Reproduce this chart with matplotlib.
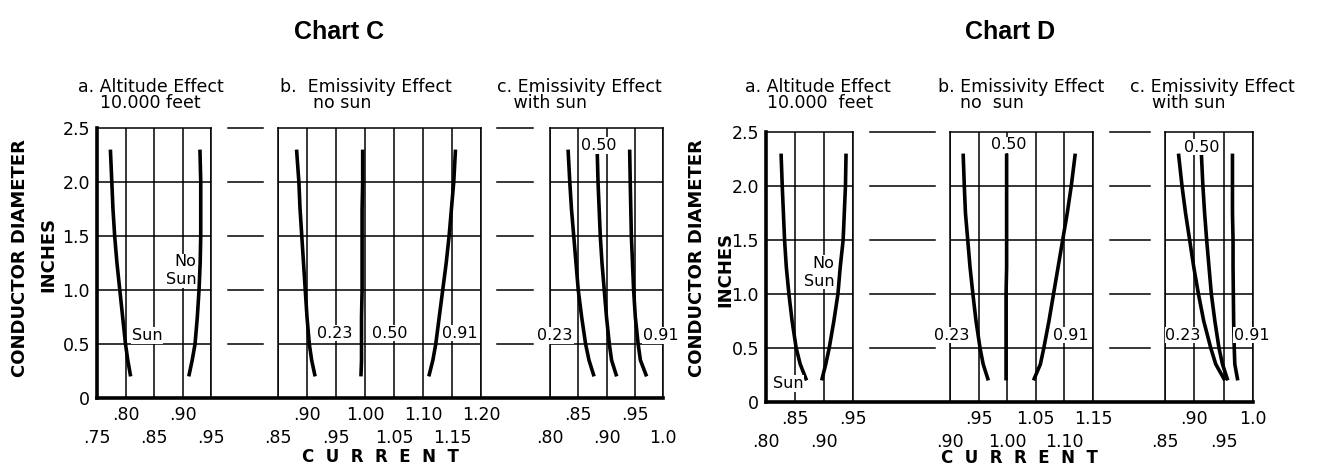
import matplotlib.pyplot as plt

W, H = 1331, 471
plt.rcParams['font.family'] = 'DejaVu Sans'

# diameter (inches) at which each curve was read
diam = [2.3, 2.0, 1.75, 1.5, 1.25, 1.0, 0.75, 0.5, 0.35, 0.2]
grid_y = [0.5, 1.0, 1.5, 2.0, 2.5]

# ---- Chart C ----
c_a_sun = [0.7735, 0.776, 0.778, 0.781, 0.785, 0.790, 0.795, 0.800, 0.804, 0.809]
c_a_nosun = [0.9306, 0.932, 0.932, 0.932, 0.931, 0.929, 0.926, 0.922, 0.917, 0.911]
c_b_023 = [0.882, 0.886, 0.888, 0.891, 0.894, 0.897, 0.900, 0.904, 0.908, 0.914]
c_b_050 = [0.996, 0.996, 0.995, 0.995, 0.995, 0.995, 0.994, 0.994, 0.994, 0.993]
c_b_091 = [1.156, 1.153, 1.149, 1.145, 1.140, 1.134, 1.128, 1.122, 1.117, 1.110]
c_c_023 = [0.832, 0.835, 0.838, 0.842, 0.846, 0.850, 0.856, 0.863, 0.869, 0.878]
c_c_050 = [0.8835, 0.885, 0.887, 0.889, 0.892, 0.896, 0.900, 0.905, 0.909, 0.918]
c_c_091 = [0.941, 0.942, 0.943, 0.944, 0.946, 0.948, 0.951, 0.956, 0.960, 0.971]

c_a_upper, c_a_upper_lbl = [0.80, 0.90], ['.80', '.90']
c_a_lower, c_a_lower_lbl = [0.75, 0.85, 0.95], ['.75', '.85', '.95']
c_b_upper, c_b_upper_lbl = [0.90, 1.00, 1.10, 1.20], ['.90', '1.00', '1.10', '1.20']
c_b_lower, c_b_lower_lbl = [0.85, 0.95, 1.05, 1.15], ['.85', '.95', '1.05', '1.15']
c_c_upper, c_c_upper_lbl = [0.85, 0.95], ['.85', '.95']
c_c_lower, c_c_lower_lbl = [0.80, 0.90, 1.00], ['.80', '.90', '1.0']

# ---- Chart D ----
d_a_sun = [0.826, 0.828, 0.830, 0.832, 0.835, 0.8395, 0.845, 0.852, 0.859, 0.870]
d_a_nosun = [0.938, 0.937, 0.935, 0.933, 0.928, 0.924, 0.917, 0.909, 0.903, 0.896]
d_b_023 = [0.923, 0.925, 0.927, 0.931, 0.935, 0.940, 0.9455, 0.9525, 0.958, 0.967]
d_b_050 = [0.999, 0.999, 0.999, 0.999, 0.999, 0.998, 0.998, 0.998, 0.998, 0.998]
d_b_091 = [1.119, 1.112, 1.105, 1.097, 1.089, 1.081, 1.073, 1.064, 1.058, 1.046]
d_c_023 = [0.873, 0.879, 0.885, 0.892, 0.899, 0.907, 0.916, 0.928, 0.9365, 0.952]
d_c_050 = [0.912, 0.9146, 0.9175, 0.921, 0.925, 0.929, 0.935, 0.942, 0.948, 0.957]
d_c_091 = [0.965, 0.965, 0.965, 0.966, 0.966, 0.9665, 0.967, 0.968, 0.969, 0.974]

d_a_upper, d_a_upper_lbl = [0.85, 0.95], ['.85', '.95']
d_a_lower, d_a_lower_lbl = [0.80, 0.90], ['.80', '.90']
d_b_upper, d_b_upper_lbl = [0.95, 1.05, 1.15], ['.95', '1.05', '1.15']
d_b_lower, d_b_lower_lbl = [0.90, 1.00, 1.10], ['.90', '1.00', '1.10']
d_c_upper, d_c_upper_lbl = [0.90, 1.00], ['.90', '1.0']
d_c_lower, d_c_lower_lbl = [0.85, 0.95], ['.85', '.95']

fig = plt.figure(figsize=(W / 100, H / 100), dpi=100)
fig.patch.set_facecolor('white')


def rect(x0, x1, ytop, ybot):
    return [x0 / W, 1 - ybot / H, (x1 - x0) / W, (ybot - ytop) / H]


def ftext(x, y, s, **kw):
    fig.text(x / W, 1 - y / H, s, **kw)


def panel(px, ytop, ybot, xlim, upper, upper_lbl, lower, lower_lbl,
          curves, labels, first=False):
    ax = fig.add_axes(rect(px[0], px[1], ytop, ybot))
    ax.set_xlim(xlim)
    ax.set_ylim(0, 2.5)
    ax.patch.set_alpha(0)
    for x in upper + lower:
        ax.axvline(x, color='black', lw=1.1, zorder=1)
    for y in grid_y[:-1]:
        ax.axhline(y, color='black', lw=1.1, zorder=1)
    for s in ax.spines.values():
        s.set_linewidth(1.1)
    ax.spines['bottom'].set_visible(False)
    ax.set_xticks(upper)
    ax.set_xticklabels(upper_lbl, fontsize=12.5)
    ax.set_xticks(lower, minor=True)
    ax.set_xticklabels(lower_lbl, minor=True, fontsize=12.5)
    ax.tick_params(which='both', length=0)
    ax.tick_params(axis='x', which='major', pad=6)
    ax.tick_params(axis='x', which='minor', pad=22)
    for xs in curves:
        ax.plot(xs, diam, color='black', lw=2.6, solid_capstyle='butt', zorder=3)
    for x, y, t, ha in labels:
        ax.text(x, y, t, ha=ha, va='center', fontsize=11.5, zorder=4,
                multialignment='right', clip_on=False,
                bbox=dict(fc='white', ec='none', pad=0.6))
    if first:
        ax.spines['left'].set_linewidth(2.6)
        ax.set_yticks([0, 0.5, 1.0, 1.5, 2.0, 2.5])
        ax.set_yticklabels(['0', '0.5', '1.0', '1.5', '2.0', '2.5'], fontsize=12.5)
        ax.tick_params(axis='y', pad=5)
    else:
        ax.set_yticks([])
    return ax


def gaps(spans, ytop, ybot):
    # short stubs of the grid lines between the panels
    for x0, x1 in spans:
        g = fig.add_axes(rect(x0, x1, ytop, ybot))
        g.set_ylim(0, 2.5)
        g.axis('off')
        for y in grid_y:
            g.axhline(y, color='black', lw=1.1, clip_on=False)


def baseline(x0, x1, ytop, ybot):
    b = fig.add_axes(rect(x0, x1, ytop, ybot), zorder=5)
    b.patch.set_alpha(0)
    b.set_xticks([])
    b.set_yticks([])
    for k in ['top', 'left', 'right']:
        b.spines[k].set_visible(False)
    b.spines['bottom'].set_linewidth(2.6)


# ---------- Chart C ----------
cy0, cy1 = 128, 398
panel((97, 211), cy0, cy1, (0.75, 0.95), c_a_upper, c_a_upper_lbl, c_a_lower, c_a_lower_lbl,
      [c_a_sun, c_a_nosun],
      [(0.924, 1.18, 'No\nSun', 'right'), (0.838, 0.58, 'Sun', 'center')], first=True)
panel((278, 481), cy0, cy1, (0.85, 1.20), c_b_upper, c_b_upper_lbl, c_b_lower, c_b_lower_lbl,
      [c_b_023, c_b_050, c_b_091],
      [(0.948, 0.60, '0.23', 'center'), (1.043, 0.60, '0.50', 'center'),
       (1.164, 0.60, '0.91', 'center')])
panel((550, 663), cy0, cy1, (0.80, 1.00), c_c_upper, c_c_upper_lbl, c_c_lower, c_c_lower_lbl,
      [c_c_023, c_c_050, c_c_091],
      [(0.887, 2.34, '0.50', 'center'), (0.809, 0.58, '0.23', 'center'),
       (0.996, 0.58, '0.91', 'center')])
gaps([(228, 263), (497, 533)], cy0, cy1)
baseline(97, 663, cy0, cy1)

# ---------- Chart D ----------
dy0, dy1 = 132, 402
panel((766, 853), dy0, dy1, (0.80, 0.95), d_a_upper, d_a_upper_lbl, d_a_lower, d_a_lower_lbl,
      [d_a_sun, d_a_nosun],
      [(0.918, 1.20, 'No\nSun', 'right'), (0.838, 0.17, 'Sun', 'center')], first=True)
panel((950, 1093), dy0, dy1, (0.90, 1.15), d_b_upper, d_b_upper_lbl, d_b_lower, d_b_lower_lbl,
      [d_b_023, d_b_050, d_b_091],
      [(1.002, 2.38, '0.50', 'center'), (0.903, 0.62, '0.23', 'center'),
       (1.111, 0.62, '0.91', 'center')])
panel((1165, 1253), dy0, dy1, (0.85, 1.00), d_c_upper, d_c_upper_lbl, d_c_lower, d_c_lower_lbl,
      [d_c_023, d_c_050, d_c_091],
      [(0.913, 2.36, '0.50', 'center'), (0.881, 0.62, '0.23', 'center'),
       (0.998, 0.62, '0.91', 'center')])
gaps([(870, 935), (1110, 1150)], dy0, dy1)
baseline(766, 1253, dy0, dy1)

# ---------- titles and axis labels ----------
ttl = dict(fontsize=12.5, va='center', ha='left', linespacing=0.92)
ftext(78, 95, 'a. Altitude Effect\n    10.000 feet', **ttl)
ftext(280, 95, 'b.  Emissivity Effect\n      no sun', **ttl)
ftext(497, 95, 'c. Emissivity Effect\n   with sun', **ttl)
ftext(745, 95, 'a. Altitude Effect\n    10.000  feet', **ttl)
ftext(938, 95, 'b. Emissivity Effect\n    no  sun', **ttl)
ftext(1130, 95, 'c. Emissivity Effect\n    with sun', **ttl)

ttl_big = dict(fontsize=18, fontweight='bold', family='Liberation Sans', ha='center', va='center')
ftext(339, 32, 'Chart C', **ttl_big)
ftext(1010, 32, 'Chart D', **ttl_big)

lab = dict(fontsize=13, fontweight='bold', rotation=90, ha='center', va='center')
ftext(20, 258, 'CONDUCTOR DIAMETER', **lab)
ftext(48, 254, 'INCHES', **lab)
ftext(697, 258, 'CONDUCTOR DIAMETER', **lab)
ftext(725, 269, 'INCHES', **lab)

cur = dict(fontsize=12, fontweight='bold', ha='center', va='center')
ftext(380, 457, 'C  U  R  R  E  N  T', **cur)
ftext(1019, 458, 'C  U  R  R  E  N  T', **cur)

fig.savefig('out.png', dpi=100, facecolor='white')
